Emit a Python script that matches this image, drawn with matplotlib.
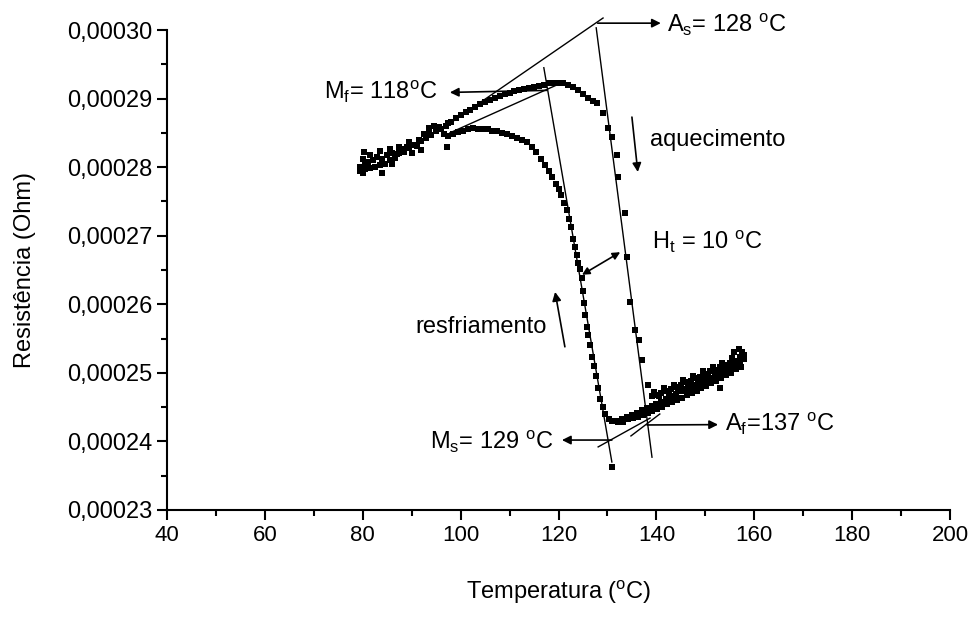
import numpy as np
import matplotlib
matplotlib.use("Agg")
import matplotlib.pyplot as plt
from matplotlib.ticker import MultipleLocator, FuncFormatter

plt.rcParams['font.family'] = ['Liberation Sans', 'DejaVu Sans']
plt.rcParams['mathtext.fontset'] = 'custom'
plt.rcParams['mathtext.rm'] = 'Liberation Sans'
plt.rcParams['mathtext.it'] = 'Liberation Sans'

## the data (temperature in C, resistance in 1e-4 Ohm)
T_heat = [79.5, 80.0, 80.5, 81, 82, 83, 84, 85, 86, 87, 88, 89, 90, 91, 92, 93, 94,
          95, 96, 97, 98, 99, 100, 101, 102, 103, 104, 105, 106, 107, 108, 109, 110,
          111, 112, 113, 114, 115, 116, 117, 118, 119, 120, 121, 122, 123, 124, 125,
          126, 127, 127.9, 129.1, 130.1, 130.9, 132.0, 132.2, 133.6, 134.0, 134.6,
          135.6, 136.4, 137.1, 138.3, 139.0, 140, 141, 142, 143, 144, 145, 146, 147,
          148, 149, 150, 151, 152, 153, 154, 155, 156, 157, 158,
          139.5, 140.5, 141.5, 142.5, 143.5, 144.5, 145.5, 146.5, 147.5, 148.5, 149.5,
          150.5, 151.5, 152.5, 153.5, 154.5, 155.5, 156.5, 157.5, 156.8, 157.8, 155.8,
          80.2, 81.5, 83.5, 85.5, 87.5, 89.5, 91.5, 93.5, 95.5, 97.5]
R_heat = [2.800, 2.812, 2.803, 2.808, 2.811, 2.815, 2.812, 2.818, 2.821, 2.819, 2.826,
          2.829, 2.833, 2.831, 2.838, 2.842, 2.847, 2.852, 2.855, 2.860, 2.866, 2.872,
          2.876, 2.880, 2.884, 2.888, 2.892, 2.895, 2.898, 2.901, 2.904, 2.906, 2.908,
          2.911, 2.913, 2.914, 2.916, 2.917, 2.919, 2.920, 2.922, 2.923, 2.923, 2.922,
          2.920, 2.917, 2.912, 2.906, 2.901, 2.896, 2.894, 2.879, 2.857, 2.844, 2.818,
          2.786, 2.733, 2.669, 2.603, 2.563, 2.548, 2.519, 2.482, 2.466, 2.468, 2.470,
          2.473, 2.476, 2.479, 2.483, 2.486, 2.488, 2.492, 2.494, 2.498, 2.502, 2.504,
          2.508, 2.512, 2.515, 2.518, 2.523, 2.526,
          2.472, 2.466, 2.478, 2.470, 2.483, 2.476, 2.490, 2.482, 2.495, 2.488, 2.502,
          2.494, 2.508, 2.500, 2.515, 2.507, 2.522, 2.514, 2.528, 2.535, 2.520, 2.530,
          2.822, 2.818, 2.823, 2.826, 2.830, 2.836, 2.840, 2.850, 2.858, 2.865]

T_cool = [158, 157.5, 157, 156, 155, 154, 153, 152, 151, 150, 149, 148, 147, 146, 145,
          144, 143, 142, 141, 140, 139, 138, 137, 136, 135, 134, 133, 132, 131, 130.3,
          129.6, 129.0, 128.5, 128.0, 127.6, 127.2, 126.8, 126.4, 126.1, 125.8, 125.5,
          125.2, 125.0, 124.7, 124.3, 124.0, 123.7, 123.3, 123.0, 122.6, 122.2, 121.7,
          121.2, 120.6, 120.0, 119.4, 118.7, 118.0, 117.3, 116.5, 115.5, 114.5, 113.5,
          112.5, 111.5, 110.5, 109.5, 108.5, 107.5, 106.5, 105.5, 104.5, 103.5, 102.5,
          101.5, 100.5, 99.5, 98.5, 97.5, 96.5, 95.5, 94.5, 93.5, 92.5, 91.5, 90.5,
          89.5, 88.5, 87.5, 86.5, 85.5, 84.5, 83.5, 82.5, 81.5, 80.5, 80.0, 79.5, 130.9,
          157.2, 156.2, 155.2, 154.2, 153.2, 152.2, 151.2, 150.2, 149.2, 148.2, 147.2,
          146.2, 145.2, 144.2, 143.2, 142.2, 141.2, 140.2, 139.2, 138.2, 137.2, 136.2,
          135.2, 134.2, 133.2, 132.2, 153.0, 83.9, 97.2, 92.0, 90.0, 86.0]
R_cool = [2.520, 2.530, 2.515, 2.512, 2.508, 2.505, 2.500, 2.497, 2.493, 2.490, 2.486,
          2.483, 2.480, 2.476, 2.473, 2.469, 2.466, 2.462, 2.458, 2.455, 2.452, 2.449,
          2.446, 2.442, 2.438, 2.435, 2.432, 2.430, 2.430, 2.433, 2.440, 2.450, 2.462,
          2.478, 2.495, 2.510, 2.523, 2.540, 2.555, 2.567, 2.585, 2.602, 2.620, 2.638,
          2.652, 2.660, 2.672, 2.683, 2.695, 2.712, 2.725, 2.738, 2.748, 2.760, 2.768,
          2.776, 2.786, 2.795, 2.803, 2.812, 2.822, 2.830, 2.836, 2.840, 2.843, 2.846,
          2.848, 2.850, 2.852, 2.853, 2.855, 2.856, 2.856, 2.857, 2.855, 2.853, 2.851,
          2.849, 2.846, 2.848, 2.855, 2.860, 2.857, 2.848, 2.838, 2.832, 2.828, 2.822,
          2.820, 2.813, 2.810, 2.805, 2.803, 2.800, 2.799, 2.797, 2.792, 2.795, 2.363,
          2.508, 2.505, 2.500, 2.497, 2.492, 2.488, 2.485, 2.481, 2.478, 2.474, 2.471,
          2.468, 2.464, 2.461, 2.457, 2.454, 2.450, 2.447, 2.444, 2.441, 2.438, 2.436,
          2.434, 2.432, 2.429, 2.428, 2.478, 2.791, 2.830, 2.825, 2.820, 2.805]

# tangent lines ((T1, T2), (R1, R2)), R in 1e-4 Ohm
tangents = [
    ((98.2, 129.1), (2.8658, 3.0175)),
    ((127.7, 139.1), (3.0032, 2.377)),
    ((117.0, 130.9), (2.945, 2.370)),
    ((97.8, 119.7), (2.850, 2.920)),
    ((128.1, 138.7), (2.392, 2.434)),
    ((134.8, 140.7), (2.408, 2.440)),
]

fig = plt.figure(figsize=(9.76, 6.24), dpi=100)
ax = fig.add_axes([0.1711, 0.1827, 0.8023, 0.7692])

ax.plot(T_heat, np.array(R_heat) * 1e-4, 's', color='black', markersize=5, markeredgewidth=0)
ax.plot(T_cool, np.array(R_cool) * 1e-4, 's', color='black', markersize=5, markeredgewidth=0)

for (tx, ty) in tangents:
    ax.plot(tx, np.array(ty) * 1e-4, color='black', linewidth=1.0, clip_on=False)

# arrows and labels
arr = dict(arrowstyle='-|>', color='black', lw=1.2, mutation_scale=13, shrinkA=0, shrinkB=0)
fs = 17
ax.annotate('', xy=(140.9, 3.010e-4), xytext=(128.0, 3.010e-4), arrowprops=arr, annotation_clip=False)
ax.text(142.2, 3.008e-4, r'A$_\mathregular{s}$= 128 $^\mathregular{o}$C', fontsize=fs, va='center', clip_on=False)

ax.annotate('', xy=(97.8, 2.909e-4), xytext=(117.6, 2.912e-4), arrowprops=arr)
ax.text(95.2, 2.910e-4, r'M$_\mathregular{f}$= 118$^\mathregular{o}$C', fontsize=fs, va='center', ha='right')

ax.annotate('', xy=(132.6, 2.676e-4), xytext=(124.8, 2.643e-4),
            arrowprops=dict(arrowstyle='<|-|>', color='black', lw=1.2, mutation_scale=11, shrinkA=0, shrinkB=0))
ax.text(139.1, 2.691e-4, r'H$_\mathregular{t}$ = 10 $^\mathregular{o}$C', fontsize=fs, va='center')

ax.annotate('', xy=(152.6, 2.4245e-4), xytext=(138.1, 2.424e-4), arrowprops=arr)
ax.text(154.0, 2.425e-4, r'A$_\mathregular{f}$=137 $^\mathregular{o}$C', fontsize=fs, va='center')

ax.annotate('', xy=(120.7, 2.402e-4), xytext=(130.9, 2.402e-4), arrowprops=arr)
ax.text(118.9, 2.399e-4, r'M$_\mathregular{s}$= 129 $^\mathregular{o}$C', fontsize=fs, va='center', ha='right')

ax.annotate('', xy=(136.2, 2.793e-4), xytext=(135.0, 2.873e-4), arrowprops=arr)
ax.text(138.7, 2.840e-4, 'aquecimento', fontsize=fs, va='center')

ax.annotate('', xy=(119.3, 2.618e-4), xytext=(121.3, 2.538e-4), arrowprops=arr)
ax.text(90.7, 2.567e-4, 'resfriamento', fontsize=fs, va='center')

# axes and labels
ax.set_xlim(40, 200)
ax.set_ylim(0.00023, 0.00030)
ax.spines['top'].set_visible(False)
ax.spines['right'].set_visible(False)
ax.spines['left'].set_linewidth(1.5)
ax.spines['bottom'].set_linewidth(1.5)
ax.xaxis.set_major_locator(MultipleLocator(20))
ax.xaxis.set_minor_locator(MultipleLocator(10))
ax.yaxis.set_major_locator(MultipleLocator(0.00001))
ax.yaxis.set_minor_locator(MultipleLocator(0.000005))
ax.yaxis.set_major_formatter(FuncFormatter(lambda v, p: ('%.5f' % v).replace('.', ',')))
ax.tick_params(which='major', direction='out', length=7, width=1.5)
ax.tick_params(which='minor', direction='out', length=4, width=1.5)
ax.tick_params(axis='y', labelsize=17)
ax.tick_params(axis='x', labelsize=16)
ax.set_xlabel('Temperatura ($^\mathregular{o}$C)', fontsize=17, labelpad=24)
ax.set_ylabel('Resistência (Ohm)', fontsize=17, labelpad=22)

fig.savefig('out.png', dpi=100)
